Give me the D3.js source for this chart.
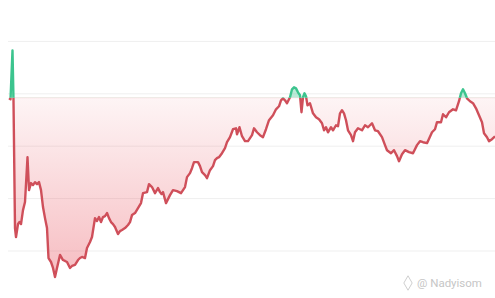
<!DOCTYPE html>
<html>
<head>
<meta charset="utf-8">
<script src="https://cdn.jsdelivr.net/npm/d3@7"></script>
<style>
  html, body { margin: 0; padding: 0; background: #fff; overflow: hidden; }
  svg { display: block; }
</style>
</head>
<body>
<svg id="chart" width="495" height="298"></svg>
<script>
// ---- data ----
const days = [0,1.5,3.5,4.5,6,7,9,10.5,12,14,16,18.5,20,22,24,26,28,30,32,34,36,38,39.5,42,44,46,48,51,54,56,58,61,63,66,69,71,73,76,78,81,83,86,88,90,92,94,96,98,100,102,104,106,109,111,113,116,119,121,123,126,129,132,134,138,140,143,146,149,151,152.5,154,157,159,161,164,168,172,176,178,181,183,185,189,191,193,196,198,201,204,206,208,210,213,216,218,221,224,227,228,230.5,233,236,239,243,245,248,251,254,257,260,264,267,270,272,274,276,278,281,283,285,287,289,291,292.5,294,295.5,297,298.5,301,304,307,310,313,315,317,319,322,324,327,329,331,333,335,337,339,342,344,346,349,353,356,359,363,366,369,373,376,378,382,385,388,390,393,396,400,404,408,411,414,418,423,426,428,432,434,437,440,444,447,450,452,454,456,458,461,464,467,470,473,475,478,480,483,486];
const prices = [145.7,144.8,191.4,143.8,21.9,13.3,25.7,27.6,25.7,39.0,46.7,89.5,58.1,64.8,62.9,65.7,63.8,65.7,58.1,41.9,31.4,21.9,-6.7,-10.5,-16.2,-24.8,-16.2,-3.8,-8.6,-9.5,-10.5,-16.2,-14.3,-13.3,-8.6,-6.7,-5.7,-6.7,2.9,8.6,13.3,31.4,28.6,32.4,27.6,32.4,33.3,36.2,31.4,27.6,25.7,22.9,16.2,19.0,20.0,21.9,24.8,27.6,34.3,36.2,41.0,45.7,55.2,56.2,63.8,61.0,55.2,60.0,56.2,54.3,56.2,45.7,49.5,53.3,58.1,57.1,55.2,61.0,70.5,74.3,79.0,84.8,84.8,81.0,75.2,72.4,69.5,77.1,81.0,86.7,88.6,89.5,93.3,98.1,103.8,108.6,116.2,117.1,111.4,118.1,109.5,104.8,104.8,110.5,117.1,113.3,110.5,108.6,116.2,124.8,129.5,135.2,138.1,143.8,145.7,143.8,141.0,146.7,154.3,156.2,155.2,151.4,148.6,132.4,146.7,150.5,147.6,139.0,141.0,131.4,127.6,125.7,121.9,115.2,118.1,113.3,118.1,115.2,120.0,119.0,131.4,134.3,131.4,124.8,115.2,110.5,104.8,113.3,117.1,115.2,120.0,118.1,121.9,115.2,114.3,108.6,101.0,96.2,93.3,96.2,90.5,85.7,92.4,96.2,94.3,93.3,101.0,104.8,103.8,102.9,113.3,116.2,122.9,122.9,130.5,127.6,132.4,135.2,134.3,142.9,150.5,154.3,150.5,145.7,142.9,141.0,136.2,129.5,122.9,112.4,108.6,104.8,106.7,109.5];
const baseline = 146.2;
const gridValues = [0, 50, 100, 150, 200];
const watermark = "@ Nadyisom";

// ---- layout ----
const W = 495, H = 298;
const svg = d3.select("#chart");
const x = d3.scaleLinear().domain([0, 486]).range([9, 495]);
const y = d3.scaleLinear().domain([0, 200]).range([251, 41.4]);
const data = days.map((d, i) => ({ t: d, v: prices[i] }));
const by = y(baseline);

const defs = svg.append("defs");
const grad = defs.append("linearGradient")
  .attr("id", "redGrad").attr("gradientUnits", "userSpaceOnUse")
  .attr("x1", 0).attr("x2", 0).attr("y1", by).attr("y2", y(-26));
grad.append("stop").attr("offset", 0).attr("stop-color", "#e8505c").attr("stop-opacity", 0.06);
grad.append("stop").attr("offset", 1).attr("stop-color", "#e8505c").attr("stop-opacity", 0.38);

defs.append("clipPath").attr("id", "above").append("rect")
  .attr("x", 0).attr("y", 0).attr("width", W).attr("height", by);
defs.append("clipPath").attr("id", "below").append("rect")
  .attr("x", 0).attr("y", by).attr("width", W).attr("height", H - by);

// gridlines
svg.append("g").selectAll("line").data(gridValues).join("line")
  .attr("x1", 8).attr("x2", W)
  .attr("y1", d => y(d)).attr("y2", d => y(d))
  .attr("stroke", "#efefef").attr("stroke-width", 1);

// baseline
svg.append("line")
  .attr("x1", x(0)).attr("x2", W).attr("y1", by).attr("y2", by)
  .attr("stroke", "#fbe7e8").attr("stroke-width", 1);

const area = d3.area().x(d => x(d.t)).y0(by).y1(d => y(d.v));
const line = d3.line().x(d => x(d.t)).y(d => y(d.v));

svg.append("path").datum(data).attr("d", area)
  .attr("fill", "url(#redGrad)").attr("clip-path", "url(#below)");
svg.append("path").datum(data).attr("d", area)
  .attr("fill", "#3cc48e").attr("fill-opacity", 0.35).attr("clip-path", "url(#above)");

svg.append("path").datum(data).attr("d", line)
  .attr("fill", "none").attr("stroke", "#cf4f5a").attr("stroke-width", 2.4)
  .attr("stroke-linejoin", "round").attr("clip-path", "url(#below)");
svg.append("path").datum(data).attr("d", line)
  .attr("fill", "none").attr("stroke", "#3cc48e").attr("stroke-width", 2.4)
  .attr("stroke-linejoin", "round").attr("clip-path", "url(#above)");

// watermark
svg.append("path")
  .attr("d", d3.symbol(d3.symbolDiamond, 60)())
  .attr("transform", "translate(408,283)")
  .attr("fill", "none").attr("stroke", "#cfcfcf").attr("stroke-width", 1);
svg.append("text")
  .attr("x", 417).attr("y", 287)
  .attr("font-family", "Roboto, 'Noto Sans', sans-serif")
  .attr("font-size", 11.5).attr("fill", "#c6c6c6")
  .text(watermark);
</script>
</body>
</html>
